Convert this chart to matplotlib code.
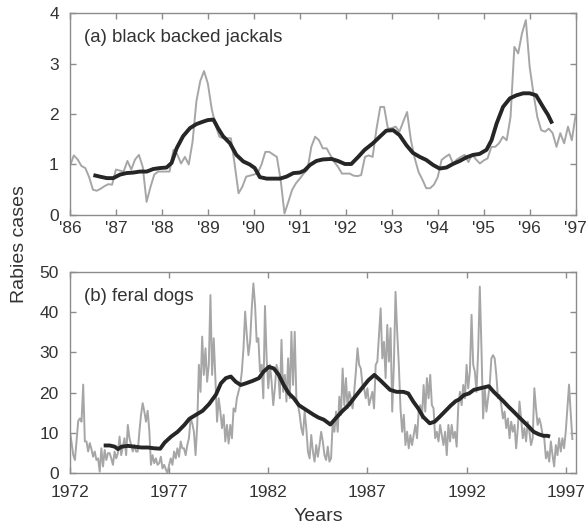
import numpy as np
import matplotlib
matplotlib.use("Agg")
import matplotlib.pyplot as plt

plt.rcParams['font.family'] = ['Liberation Sans', 'DejaVu Sans']

# --- (a) black backed jackals: monthly cases from Jan 1986 ---
jackal_start = 1986.0
jackal_monthly = [
    0.97, 1.18, 1.10, 0.97, 0.93, 0.75, 0.50, 0.48, 0.52, 0.57, 0.61, 0.60,   # 1986
    0.90, 0.88, 0.86, 1.07, 0.90, 1.10, 1.19, 0.95, 0.26, 0.55, 0.80, 0.86,   # 1987
    0.86, 0.86, 0.86, 1.29, 1.20, 1.02, 1.15, 1.00, 1.45, 2.25, 2.65, 2.85,   # 1988
    2.60, 2.10, 1.78, 1.55, 1.52, 1.52, 1.52, 1.00, 0.43, 0.56, 0.76, 0.78,   # 1989
    0.80, 0.83, 1.00, 1.25, 1.25, 1.20, 1.15, 0.69, 0.03, 0.26, 0.50, 0.63,   # 1990
    0.72, 0.82, 0.90, 1.35, 1.55, 1.48, 1.32, 1.32, 1.18, 1.05, 0.95, 0.82,   # 1991
    0.82, 0.82, 0.78, 0.77, 0.79, 1.15, 1.18, 1.15, 1.70, 2.14, 2.14, 1.71,   # 1992
    1.72, 1.75, 1.65, 1.85, 2.04, 1.48, 1.12, 0.85, 0.70, 0.53, 0.53, 0.60,   # 1993
    0.75, 1.09, 1.15, 1.20, 1.02, 1.10, 1.15, 1.19, 1.05, 1.20, 1.10, 1.02,   # 1994
    1.08, 1.12, 1.35, 1.35, 1.42, 1.55, 1.48, 1.94, 3.33, 3.20, 3.60, 3.86,   # 1995
    2.93, 2.40, 1.94, 1.68, 1.65, 1.71, 1.62, 1.35, 1.62, 1.42, 1.75, 1.48,   # 1996
    1.98,                                                                     # 1997
]
jackal_smooth_years = [
    1986.51, 1986.65, 1986.8, 1986.94, 1987.09, 1987.23, 1987.38, 1987.52, 1987.67, 1987.81,
    1987.96, 1988.1, 1988.21, 1988.32, 1988.46, 1988.61, 1988.75, 1988.9, 1989.0, 1989.12,
    1989.22, 1989.33, 1989.48, 1989.62, 1989.77, 1989.91, 1990.02, 1990.13, 1990.28, 1990.42,
    1990.57, 1990.71, 1990.86, 1991.0, 1991.1, 1991.22, 1991.36, 1991.5, 1991.69, 1991.83,
    1991.98, 1992.12, 1992.27, 1992.41, 1992.59, 1992.74, 1992.88, 1993.03, 1993.17, 1993.32,
    1993.46, 1993.61, 1993.75, 1993.9, 1994.04, 1994.19, 1994.33, 1994.48, 1994.62, 1994.77,
    1994.91, 1995.06, 1995.17, 1995.28, 1995.42, 1995.57, 1995.71, 1995.86, 1996.0, 1996.14,
    1996.29, 1996.4, 1996.49,
]
jackal_smooth = [
    0.79, 0.76, 0.73, 0.73, 0.80, 0.83, 0.84, 0.86, 0.86, 0.91,
    0.93, 0.94, 1.03, 1.32, 1.56, 1.72, 1.80, 1.85, 1.88, 1.89,
    1.72, 1.56, 1.42, 1.19, 1.06, 1.00, 0.93, 0.75, 0.72, 0.72,
    0.72, 0.76, 0.83, 0.84, 0.88, 0.99, 1.07, 1.10, 1.11, 1.07,
    1.01, 1.01, 1.15, 1.29, 1.42, 1.55, 1.67, 1.68, 1.58, 1.38,
    1.23, 1.15, 1.09, 0.99, 0.92, 0.94, 1.01, 1.07, 1.14, 1.19,
    1.21, 1.29, 1.48, 1.81, 2.14, 2.31, 2.37, 2.41, 2.41, 2.37,
    2.14, 1.98, 1.81,
]
jackal_ticks = list(range(1986, 1998))
jackal_ticklabels = ["'%02d" % (y % 100) for y in jackal_ticks]

# --- (b) feral dogs: monthly cases from Jan 1972 ---
dog_start = 1972.0
dog_monthly = [
    10.3, 7.5, 4.5, 3.3, 8.0, 13.0, 13.6, 12.8, 22.0, 7.9, 7.9, 5.4,          # 1972
    7.5, 6.0, 4.1, 5.4, 3.3, 3.7, 0.4, 6.2, 1.7, 5.8, 3.3, 5.0,              # 1973
    5.0, 3.7, 2.1, 5.4, 3.7, 5.0, 9.1, 4.5, 6.6, 8.7, 4.5, 12.0,             # 1974
    8.7, 7.0, 5.4, 7.0, 5.4, 5.4, 10.3, 14.5, 17.4, 15.3, 12.8, 15.5,        # 1975
    10.7, 2.1, 4.5, 2.5, 3.7, 2.1, 2.5, 4.1, 1.2, 2.1, 1.0, 0.0,             # 1976
    2.1, 3.7, 2.1, 5.4, 3.7, 6.2, 4.1, 7.9, 6.2, 6.2, 4.5, 7.0,              # 1977
    8.7, 13.6, 12.4, 10.3, 4.5, 12.0, 26.9, 20.2, 33.9, 24.4, 31.0, 22.7,    # 1978
    26.9, 44.2, 24.4, 33.5, 23.5, 12.8, 18.6, 15.3, 11.2, 14.5, 7.9, 12.0,   # 1979
    7.4, 12.0, 8.7, 16.1, 15.3, 18.6, 20.2, 21.9, 25.2, 31.0, 40.1, 34.3,    # 1980
    29.3, 32.6, 40.9, 47.1, 41.7, 32.6, 33.5, 25.2, 26.9, 18.6, 41.5, 28.5,  # 1981
    21.1, 26.9, 22.7, 16.9, 21.1, 26.9, 25.2, 18.6, 33.1, 20.2, 24.4, 17.8,  # 1982
    28.5, 18.6, 35.1, 21.9, 35.1, 18.6, 16.9, 14.5, 11.2, 9.5, 15.3, 11.2,   # 1983
    5.4, 3.7, 9.5, 5.4, 2.9, 7.0, 4.1, 7.0, 10.3, 7.9, 4.5, 3.3,             # 1984
    6.6, 2.9, 3.7, 12.8, 10.3, 15.3, 10.3, 19.0, 14.5, 26.0, 16.9, 23.6,     # 1985
    16.1, 20.2, 18.6, 16.1, 20.2, 25.2, 31.0, 26.9, 26.0, 21.9, 21.1, 18.6,  # 1986
    21.1, 16.9, 18.6, 20.2, 16.1, 26.9, 27.7, 34.3, 40.9, 28.5, 32.6, 23.6,  # 1987
    36.8, 27.7, 36.0, 15.3, 26.9, 45.0, 35.1, 26.9, 16.1, 10.3, 14.5, 7.0,   # 1988
    10.3, 6.2, 9.5, 7.0, 9.5, 12.0, 8.7, 15.3, 16.9, 13.6, 21.9, 15.3,       # 1989
    23.6, 18.6, 24.4, 16.9, 16.1, 8.7, 10.3, 7.9, 12.0, 9.5, 7.0, 10.3,      # 1990
    4.5, 12.0, 7.9, 12.0, 8.7, 10.3, 6.6, 16.9, 20.2, 16.9, 21.9, 18.6,      # 1991
    26.9, 21.1, 25.2, 39.3, 26.9, 25.2, 20.2, 30.2, 46.3, 31.0, 13.6, 21.1,  # 1992
    15.3, 18.6, 21.9, 28.5, 29.3, 28.5, 24.4, 18.6, 19.4, 16.9, 13.6, 15.3,  # 1993
    11.2, 13.6, 8.7, 12.8, 10.3, 12.0, 6.2, 11.2, 17.8, 13.6, 8.7, 11.2,     # 1994
    7.9, 12.8, 10.3, 7.0, 8.7, 21.1, 16.1, 12.0, 13.6, 12.0, 9.5, 8.7,       # 1995
    3.7, 5.4, 2.9, 7.9, 4.5, 1.7, 7.0, 4.5, 8.7, 5.4, 8.7, 6.2,              # 1996
    10.3, 16.1, 22.0, 15.0, 8.5,                                             # 1997
]
dog_smooth_years = [
    1973.7, 1974.0, 1974.26, 1974.42, 1974.6, 1974.93, 1975.26, 1975.6, 1975.93, 1976.26,
    1976.55, 1976.77, 1977.1, 1977.43, 1977.77, 1978.02, 1978.35, 1978.69, 1979.02, 1979.36,
    1979.61, 1979.86, 1980.11, 1980.36, 1980.61, 1980.86, 1981.2, 1981.53, 1981.76, 1982.03,
    1982.28, 1982.53, 1982.78, 1983.04, 1983.29, 1983.54, 1983.79, 1984.04, 1984.29, 1984.54,
    1984.8, 1985.13, 1985.38, 1985.71, 1986.05, 1986.38, 1986.72, 1987.05, 1987.35, 1987.64,
    1987.89, 1988.14, 1988.47, 1988.81, 1989.06, 1989.31, 1989.56, 1989.81, 1990.14, 1990.39,
    1990.64, 1990.9, 1991.2, 1991.45, 1991.62, 1991.87, 1992.12, 1992.37, 1992.7, 1993.12,
    1993.37, 1993.62, 1993.87, 1994.12, 1994.37, 1994.63, 1994.88, 1995.13, 1995.38, 1995.63,
    1995.88, 1996.08, 1996.21,
]
dog_smooth = [
    6.9, 6.9, 6.6, 6.0, 6.6, 6.8, 6.6, 6.4, 6.4, 6.2,
    6.1, 7.6, 9.1, 10.3, 12.0, 13.5, 14.5, 15.5, 17.2, 19.5,
    22.3, 23.6, 24.0, 22.7, 21.9, 22.3, 22.9, 23.6, 25.2, 26.4,
    26.0, 24.4, 21.9, 19.8, 18.6, 16.9, 16.1, 15.3, 14.5, 13.8,
    13.3, 12.1, 13.5, 15.3, 16.9, 19.0, 21.1, 23.1, 24.4, 23.1,
    21.9, 20.7, 20.2, 20.2, 19.8, 17.8, 16.1, 14.0, 12.4, 12.8,
    14.0, 15.3, 16.8, 17.9, 18.3, 19.4, 19.8, 20.7, 21.1, 21.6,
    20.2, 19.0, 17.8, 16.5, 15.3, 14.0, 12.8, 11.6, 10.3, 9.7,
    9.3, 9.3, 9.1,
]
dog_ticks = [1972, 1977, 1982, 1987, 1992, 1997]

GRAY = '#a6a6a6'
DARK = '#262626'
SPINE = '#8c8c8c'
TEXT = '#333333'


def style_axes(ax, xpad, ypad):
    for s in ax.spines.values():
        s.set_color(SPINE)
        s.set_linewidth(1.0)
    ax.tick_params(direction='in', length=4, width=1.0, color=SPINE,
                   top=True, right=True, labelsize=12.5, labelcolor=TEXT)
    ax.tick_params(axis='x', pad=xpad)
    ax.tick_params(axis='y', pad=ypad)


fig = plt.figure(figsize=(5.88, 5.29), dpi=100)

# top panel
ax1 = fig.add_axes([0.119, 0.5936, 0.860, 0.3818])
t1 = jackal_start + np.arange(len(jackal_monthly)) / 12.0
ax1.plot(t1, jackal_monthly, color=GRAY, lw=1.4)
ax1.plot(jackal_smooth_years, jackal_smooth, color=DARK, lw=2.8,
         solid_capstyle='butt')
ax1.set_xlim(1986, 1997)
ax1.set_ylim(0, 4)
ax1.set_xticks(jackal_ticks)
ax1.set_xticklabels(jackal_ticklabels)
ax1.set_yticks([0, 1, 2, 3, 4])
style_axes(ax1, 4, 8)
ax1.text(0.027, 0.88, '(a) black backed jackals', transform=ax1.transAxes,
         fontsize=13.4, color=TEXT, va='center', ha='left')

# bottom panel
ax2 = fig.add_axes([0.119, 0.1053, 0.860, 0.3811])
t2 = dog_start + np.arange(len(dog_monthly)) / 12.0
ax2.plot(t2, dog_monthly, color=GRAY, lw=1.4)
ax2.plot(dog_smooth_years, dog_smooth, color=DARK, lw=2.8,
         solid_capstyle='butt')
ax2.set_xlim(1972, 1997.5)
ax2.set_ylim(0, 50)
ax2.set_xticks(dog_ticks)
ax2.set_yticks([0, 10, 20, 30, 40, 50])
style_axes(ax2, 8.5, 8)
ax2.text(0.027, 0.875, '(b) feral dogs', transform=ax2.transAxes,
         fontsize=13.4, color=TEXT, va='center', ha='left')

fig.text(0.033, 0.539, 'Rabies cases', rotation=90, fontsize=14,
         color=TEXT, ha='center', va='center')
fig.text(0.541, 0.023, 'Years', fontsize=14, color=TEXT,
         ha='center', va='center')

fig.savefig('out.png', dpi=100)
